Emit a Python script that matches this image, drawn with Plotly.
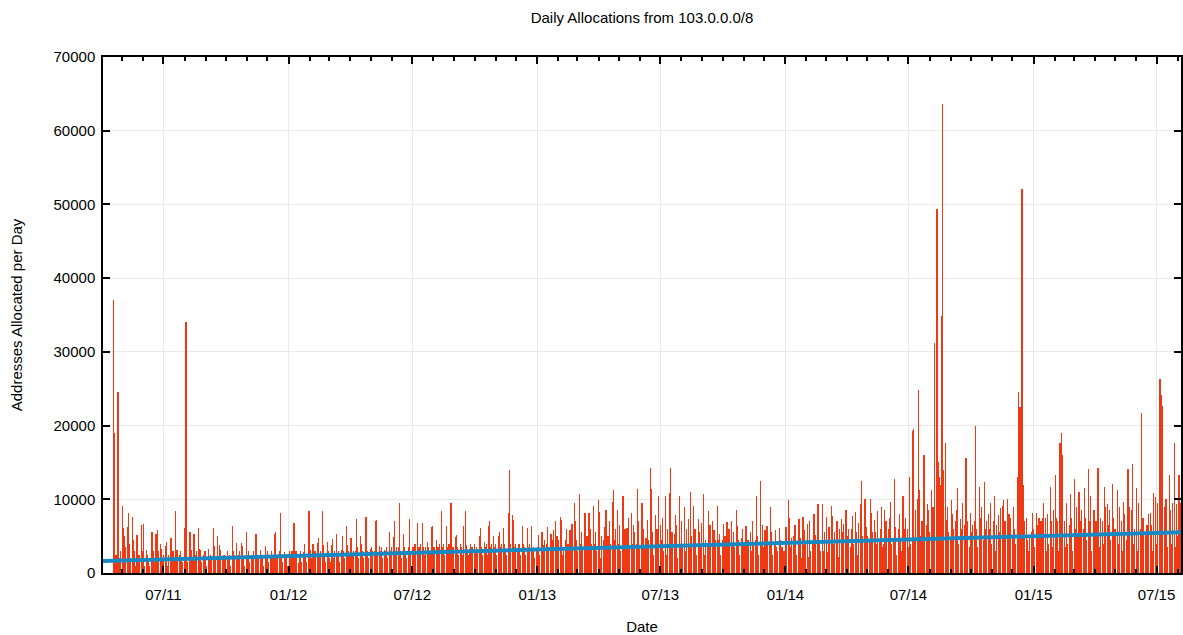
import pandas as pd
import plotly.graph_objects as go

# Weekday allocations (Mon-Fri), in hundreds of addresses, starting Mon 2011-04-18.
# Weekends carry no allocations.
alloc_2011 = [
    370, 358, 190, 15, 25, 245, 235, 10, 20, 30, 91, 61, 50, 20, 35, 62, 82, 25, 40, 15,
    76, 45, 20, 30, 10, 52, 36, 15, 25, 20, 65, 30, 66, 20, 10, 31, 15, 25, 20, 10,
    40, 56, 20, 30, 15, 53, 25, 58, 20, 30, 40, 33, 15, 20, 25, 36, 42, 20, 10, 25,
    48, 20, 47, 15, 30, 20, 84, 13, 31, 15, 25, 30, 10, 20, 15, 61, 20, 340, 25, 15,
    46, 56, 40, 31, 20, 53, 20, 25, 15, 30, 61, 33, 20, 31, 15, 25, 20, 30, 15, 10,
    33, 20, 15, 25, 20, 61, 25, 36, 20, 15, 50, 20, 38, 31, 15, 20, 9, 25, 15, 20,
    30, 20, 15, 25, 10, 64, 20, 30, 15, 25, 41, 20, 25, 15, 30, 41, 36, 20, 15, 10,
    56, 25, 20, 30, 15, 18, 25, 20, 30, 15, 53, 49, 20, 25, 15, 31, 20, 25, 15, 10,
    36, 20, 24, 30, 15, 25, 20, 30, 15, 20, 53, 56, 20, 25, 15, 30, 81, 20, 25, 15,
    29, 20, 15, 25, 10,
]
alloc_2012 = [
    30, 20, 25, 15, 30, 68, 58, 20, 30, 15, 13, 25, 20, 30, 15, 29, 40, 20, 25, 15,
    56, 84, 36, 31, 20, 40, 20, 25, 30, 15, 41, 48, 20, 25, 30, 84, 38, 20, 25, 15,
    42, 25, 30, 20, 15, 38, 46, 20, 30, 25, 53, 25, 30, 20, 15, 31, 50, 25, 30, 20,
    64, 38, 20, 30, 25, 48, 33, 25, 20, 30, 30, 73, 25, 35, 20, 50, 40, 30, 25, 20,
    50, 76, 25, 30, 20, 33, 25, 35, 20, 30, 30, 70, 72, 25, 20, 36, 25, 30, 35, 20,
    31, 30, 25, 35, 20, 56, 25, 30, 35, 20, 49, 70, 30, 25, 35, 35, 95, 30, 25, 20,
    53, 30, 35, 25, 20, 30, 35, 73, 25, 30, 35, 30, 25, 40, 20, 68, 30, 35, 25, 40,
    68, 35, 30, 25, 35, 42, 30, 35, 25, 30, 62, 64, 30, 35, 25, 45, 30, 35, 25, 40,
    84, 35, 30, 40, 25, 64, 35, 30, 25, 40, 95, 40, 30, 35, 25, 49, 52, 35, 30, 25,
    40, 30, 35, 25, 64, 84, 38, 33, 30, 25, 33, 40, 30, 35, 25, 40, 30, 35, 25, 30,
    50, 61, 30, 35, 25, 42, 30, 35, 40, 25, 64, 71, 35, 30, 40, 50, 35, 30, 40, 25,
    50, 56, 35, 30, 40, 61, 35, 40, 30, 25, 35, 81, 140, 40, 30, 79, 72, 35, 30, 40,
    31, 35, 40, 30, 25, 64, 40, 30, 35, 25, 61, 50, 35, 40, 30, 64, 30, 35, 20, 15,
]
alloc_2013 = [
    30, 10, 35, 52, 25, 56, 56, 22, 38, 45, 40, 25, 62, 30, 35, 53, 30, 20, 45, 58,
    71, 35, 50, 22, 45, 76, 72, 47, 25, 35, 45, 20, 60, 30, 40, 58, 35, 25, 66, 30,
    95, 70, 25, 45, 30, 107, 40, 22, 55, 35, 65, 81, 30, 20, 50, 81, 25, 60, 30, 40,
    91, 40, 25, 55, 30, 99, 83, 35, 20, 50, 45, 25, 62, 35, 85, 50, 30, 70, 25, 40,
    97, 113, 30, 45, 60, 86, 40, 25, 65, 30, 50, 104, 35, 25, 60, 61, 30, 75, 35, 20,
    81, 40, 65, 25, 55, 40, 114, 30, 70, 35, 75, 95, 25, 60, 35, 47, 30, 72, 25, 45,
    142, 114, 30, 55, 25, 79, 35, 60, 25, 104, 65, 25, 45, 75, 30, 104, 35, 25, 60, 45,
    108, 142, 30, 55, 25, 53, 79, 35, 65, 20, 104, 40, 25, 70, 35, 90, 83, 30, 45, 60,
    73, 35, 110, 25, 50, 91, 30, 60, 40, 25, 73, 25, 55, 35, 68, 107, 61, 25, 45, 30,
    40, 84, 30, 65, 25, 71, 35, 58, 25, 45, 91, 30, 45, 53, 25, 45, 25, 66, 35, 50,
    69, 30, 45, 60, 25, 71, 40, 25, 55, 35, 86, 64, 30, 45, 25, 48, 25, 60, 35, 40,
    64, 56, 25, 45, 30, 56, 30, 70, 25, 40, 45, 30, 104, 50, 25, 125, 40, 25, 65, 35,
    58, 30, 45, 64, 25, 40, 89, 30, 55, 25, 40, 25, 58, 35, 30, 61, 30, 45, 15, 35,
]
alloc_2014 = [
    30, 20, 45, 62, 25, 99, 74, 35, 22, 48, 50, 28, 65, 40, 25, 65, 73, 30, 48, 20,
    76, 35, 58, 25, 42, 66, 22, 45, 70, 30, 45, 30, 80, 25, 52, 58, 94, 25, 45, 30,
    94, 74, 30, 55, 22, 76, 28, 45, 62, 35, 91, 77, 25, 40, 55, 35, 71, 50, 22, 60,
    73, 30, 55, 25, 66, 86, 45, 20, 50, 60, 35, 60, 25, 78, 40, 83, 30, 55, 25, 68,
    45, 94, 125, 30, 50, 100, 35, 62, 25, 50, 45, 100, 81, 30, 55, 72, 28, 55, 40, 84,
    45, 25, 60, 89, 35, 40, 86, 30, 70, 45, 60, 28, 75, 96, 40, 45, 127, 30, 62, 25,
    60, 35, 80, 45, 30, 104, 40, 60, 25, 75, 60, 35, 130, 65, 40, 192, 70, 196, 45, 85,
    100, 65, 248, 113, 50, 70, 45, 95, 160, 40, 65, 94, 40, 85, 55, 113, 60, 90, 45, 312,
    273, 494, 212, 150, 130, 120, 348, 636, 140, 120, 176, 72, 40, 90, 55, 45, 99, 35, 80, 60,
    70, 30, 85, 115, 40, 45, 73, 60, 25, 95, 65, 156, 156, 40, 70, 35, 82, 55, 30, 65,
    70, 40, 200, 60, 35, 117, 40, 75, 30, 90, 45, 123, 60, 30, 70, 80, 35, 60, 95, 40,
    45, 70, 104, 30, 65, 40, 79, 55, 88, 30, 91, 99, 40, 70, 35, 100, 45, 80, 30, 75,
    50, 35, 90, 60, 40, 103, 130, 246, 140, 225, 521, 131, 120, 55, 70, 75, 45, 30, 10, 50,
]
alloc_2015 = [
    55, 81, 20, 60, 35, 81, 40, 65, 30, 75, 70, 35, 75, 45, 95, 74, 30, 55, 80, 40,
    117, 45, 70, 35, 85, 133, 75, 40, 70, 30, 176, 85, 190, 160, 75, 70, 35, 95, 50, 40,
    65, 107, 40, 75, 30, 128, 60, 35, 90, 50, 110, 45, 70, 30, 85, 60, 115, 35, 75, 45,
    141, 70, 40, 104, 30, 55, 85, 30, 45, 70, 143, 60, 35, 75, 50, 70, 40, 117, 30, 90,
    94, 35, 65, 85, 45, 121, 40, 75, 30, 60, 55, 113, 40, 90, 35, 70, 30, 97, 50, 80,
    45, 70, 141, 35, 90, 50, 85, 148, 40, 60, 70, 115, 30, 95, 45, 60, 217, 35, 75, 40,
    55, 30, 65, 45, 80, 81, 40, 65, 30, 109, 55, 103, 40, 95, 75, 263, 194, 242, 227, 146,
    90, 45, 100, 60, 35, 133, 50, 85, 40, 95, 176, 60, 35, 94, 50, 133, 80, 45, 95,
]
first_day = "2011-04-18"

trend_dates = ["2011-04-03", "2015-08-06"]
trend_values = [1620, 5530]

x_range = ["2011-04-03", "2015-08-06"]
y_range = [0, 70000]

title_text = "Daily Allocations from 103.0.0.0/8"
x_title = "Date"
y_title = "Addresses Allocated per Day"

hundreds = alloc_2011 + alloc_2012 + alloc_2013 + alloc_2014 + alloc_2015
values = [v * 100 for v in hundreds]
dates = pd.bdate_range(start=first_day, periods=len(values))

FONT = "Liberation Sans, Arial, Helvetica, sans-serif"
RED = "#EE3A14"
BLUE = "#1689C4"
DAY_MS = 86400000

fig = go.Figure()
fig.add_trace(go.Bar(
    x=dates, y=values, width=0.3 * DAY_MS,
    marker=dict(color=RED, line=dict(width=0)),
    showlegend=False,
))
fig.add_trace(go.Scatter(
    x=trend_dates, y=trend_values, mode="lines",
    line=dict(color=BLUE, width=4), showlegend=False,
))

fig.update_layout(
    width=1183, height=635,
    margin=dict(l=103, r=2, t=57, b=62),
    paper_bgcolor="white", plot_bgcolor="white",
    bargap=0,
    font=dict(family=FONT, size=15, color="black"),
    title=dict(text=title_text, x=0.5, xref="paper", xanchor="center",
               y=1 - 18 / 635, yref="container", yanchor="middle",
               font=dict(size=15, family=FONT, color="black")),
)
fig.update_xaxes(
    type="date", range=x_range, automargin=False,
    tick0="2011-01-01", dtick="M6", tickformat="%m/%y",
    ticks="inside", ticklen=7, tickwidth=1.5, tickcolor="black",
    showline=True, linecolor="black", linewidth=1.5, mirror="allticks",
    showgrid=True, gridcolor="#e9e9e9", gridwidth=1,
    minor=dict(dtick="M1", ticks="inside", ticklen=4, tickcolor="black", showgrid=False),
    tickfont=dict(size=15, family=FONT, color="black"),
    ticklabelstandoff=7,
    title=dict(text=x_title, font=dict(size=15, family=FONT, color="black"), standoff=27),
    zeroline=False,
)
fig.update_yaxes(
    range=y_range, dtick=10000, tick0=0, tickformat="d", automargin=False,
    ticks="inside", ticklen=7, tickwidth=1.5, tickcolor="black",
    showline=True, linecolor="black", linewidth=1.5, mirror="allticks",
    showgrid=True, gridcolor="#e9e9e9", gridwidth=1,
    tickfont=dict(size=15, family=FONT, color="black"),
    ticklabelstandoff=3,
    title=dict(text=y_title, font=dict(size=15, family=FONT, color="black"), standoff=27),
    zeroline=False,
)

fig.write_html("out.html", config={"displayModeBar": False},
               post_script="document.body.style.margin='0';")
